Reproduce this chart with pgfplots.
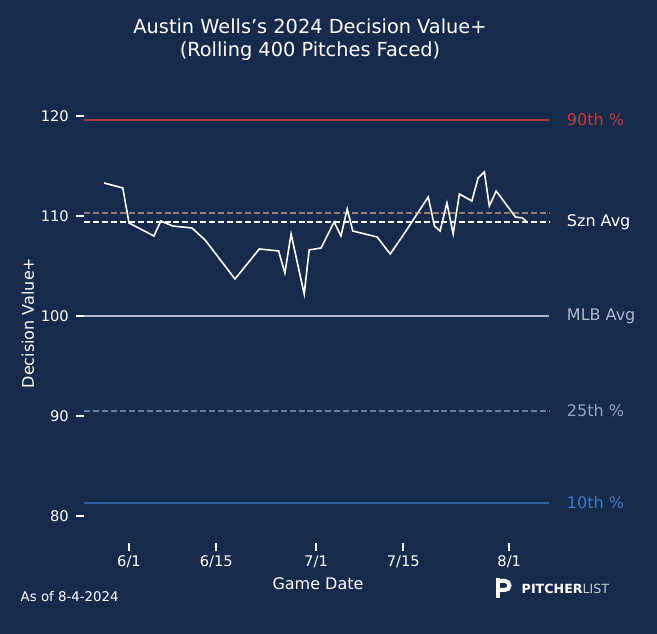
\documentclass[border=0pt]{standalone}
\usepackage{pgfplots}
\pgfplotsset{compat=1.18}
\usepackage{fontspec}
\setmainfont{DejaVu Sans}
\definecolor{bg}{RGB}{22,42,75}
\begin{document}
\begin{tikzpicture}[x=0.75pt,y=0.75pt]
\fill[bg] (0,0) rectangle (657,634);
\useasboundingbox (0,0) rectangle (657,634);
\node[white,font=\fontsize{14.5}{17}\selectfont,align=center] at (310,594) {Austin Wells's 2024 Decision Value+\\(Rolling 400 Pitches Faced)};
\node[white,font=\fontsize{10}{12}\selectfont,anchor=west] at (16,37) {As of 8-4-2024};
\node[white,font=\fontsize{12}{14}\selectfont] at (318,50) {Game Date};
\node[white,font=\fontsize{12}{14}\selectfont,rotate=90] at (28,311) {Decision Value+};
\node[white,font=\bfseries\fontsize{9.5}{11}\selectfont,anchor=west] at (517,45) {PITCHER\textmd{\color{white!75!bg}LIST}};
\fill[white] (496,36) rectangle (500,56);
\draw[white,line width=3pt] (498,53) -- (505,53) arc (90:-90:4.5) -- (500,44);
\begin{axis}[at={(135,91)},anchor=south west,
 scale only axis,width=348.75pt,height=335.25pt,
 xmin=-7.2,xmax=67.4,ymin=77.3,ymax=122,
 axis line style={draw=none},clip=false,
 xtick={0,14,30,44,61},xticklabels={6/1,6/15,7/1,7/15,8/1},
 ytick={80,90,100,110,120},
 /pgf/number format/assume math mode=true,
 tick style={white,line width=1.2pt},
 major tick length=6pt,
 xtick pos=bottom, ytick pos=left, tick align=outside,
 yticklabel style={white,font=\fontsize{11}{13}\selectfont,xshift=-2pt},
 xticklabel style={white,font=\fontsize{11}{13}\selectfont},
 mydash/.style={dash pattern=on 4.5pt off 2.2pt},
]
\addplot[color={rgb,255:red,170;green,55;blue,55},line width=1.2pt] coordinates {(-7.2,119.6) (67.4,119.6)};
\addplot[color={rgb,255:red,150;green,125;blue,120},mydash,line width=1.1pt] coordinates {(-7.2,110.3) (67.4,110.3)};
\addplot[white,mydash,line width=1.2pt] coordinates {(-7.2,109.4) (67.4,109.4)};
\addplot[color={rgb,255:red,170;green,180;blue,200},line width=1.2pt] coordinates {(-7.2,100) (67.4,100)};
\addplot[color={rgb,255:red,100;green,125;blue,165},mydash,line width=1.2pt] coordinates {(-7.2,90.5) (67.4,90.5)};
\addplot[color={rgb,255:red,45;green,95;blue,165},line width=1.2pt] coordinates {(-7.2,81.3) (67.4,81.3)};
\addplot[white,line width=1.2pt] coordinates {
(-4,113.3)(-1,112.8)(0,109.3)(4,108.0)(5.1,109.5)(7,109.0)(10.1,108.8)(12.2,107.6)
(17,103.7)(20.9,106.7)(24,106.5)(25,104.3)(26,108.2)(28.1,102.2)(28.9,106.6)(30.8,106.8)
(32.9,109.4)(34,108.0)(35,110.7)(35.9,108.5)(39.8,107.9)(41.9,106.2)(44,108.1)(48,111.9)
(49,109.0)(49.9,108.5)(51,111.3)(52,108.2)(53,112.2)(55,111.5)(56,113.8)(57,114.4)
(57.8,111.0)(58.9,112.5)(62,109.9)(63.1,109.8)(63.7,109.5)};
\begin{scope}[font=\fontsize{12}{14}\selectfont]
\node[anchor=west,color={rgb,255:red,190;green,60;blue,60}] at (axis cs:69.5,119.6) {90th \%};
\node[anchor=west,white] at (axis cs:69.5,109.4) {Szn Avg};
\node[anchor=west,color={rgb,255:red,175;green,185;blue,205}] at (axis cs:69.5,100) {MLB Avg};
\node[anchor=west,color={rgb,255:red,150;green,165;blue,190}] at (axis cs:69.5,90.5) {25th \%};
\node[anchor=west,color={rgb,255:red,70;green,120;blue,190}] at (axis cs:69.5,81.3) {10th \%};
\end{scope}
\end{axis}
\end{tikzpicture}
\end{document}
